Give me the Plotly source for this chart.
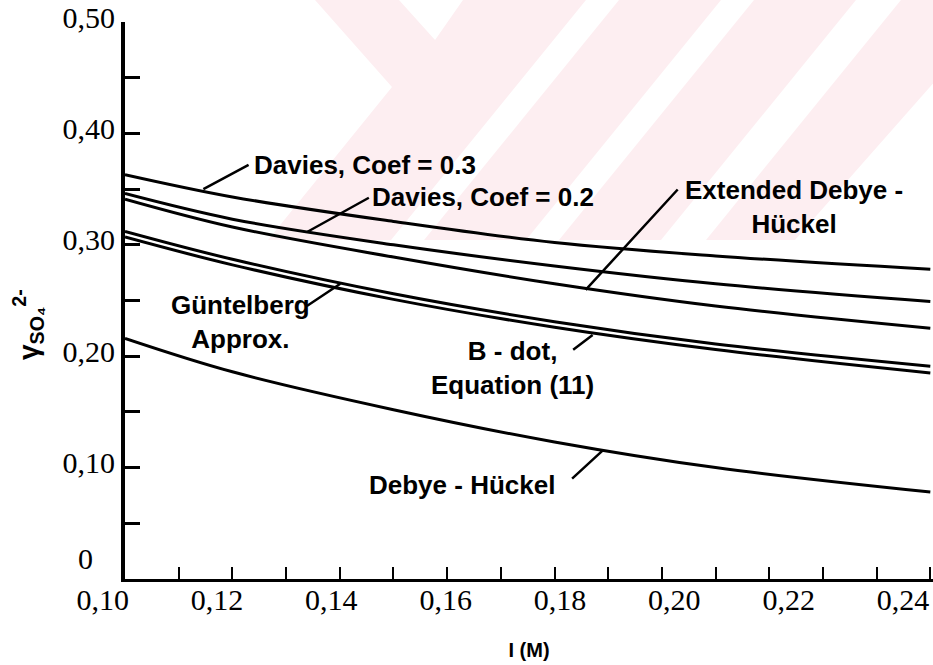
import plotly.graph_objects as go

# Ionic strength I (M)
ionic_strength = [0.10, 0.12, 0.15, 0.18, 0.21, 0.25]

# Activity coefficient of sulfate for each model
davies_03 = [0.363, 0.343, 0.321, 0.302, 0.290, 0.278]
davies_02 = [0.346, 0.323, 0.300, 0.281, 0.265, 0.249]
extended_dh = [0.341, 0.316, 0.289, 0.265, 0.245, 0.225]
guntelberg = [0.312, 0.287, 0.256, 0.231, 0.211, 0.191]
b_dot = [0.307, 0.282, 0.251, 0.226, 0.206, 0.185]
debye_huckel = [0.216, 0.186, 0.152, 0.123, 0.100, 0.078]

series = [
    ("Davies, Coef = 0.3", davies_03),
    ("Davies, Coef = 0.2", davies_02),
    ("Extended Debye-Hückel", extended_dh),
    ("Güntelberg Approx.", guntelberg),
    ("B-dot, Equation (11)", b_dot),
    ("Debye-Hückel", debye_huckel),
]

y_ticks = [0.05, 0.10, 0.15, 0.20, 0.25, 0.30, 0.35, 0.40, 0.45, 0.50]
y_ticktext = ["", "0,10", "", "0,20", "", "0,30", "", "0,40", "", "0,50"]
x_minor_ticks = [0.11, 0.12, 0.13, 0.14, 0.15, 0.16, 0.17, 0.18, 0.19,
                 0.20, 0.21, 0.22, 0.23, 0.24, 0.25]
x_label_vals = [0.10, 0.12, 0.14, 0.16, 0.18, 0.20, 0.22, 0.24]
x_label_text = ["0,10", "0,12", "0,14", "0,16", "0,18", "0,20", "0,22", "0,24"]

# curve labels: (text, I, gamma, xanchor)
curve_labels = [
    ("Davies, Coef = 0.3", 0.1237, 0.3716, "left"),
    ("Davies, Coef = 0.2", 0.1457, 0.3429, "left"),
    ("Extended Debye -<br>Hückel", 0.2246, 0.3339, "center"),
    ("Güntelberg<br>Approx.", 0.1215, 0.2307, "center"),
    ("B - dot,<br>Equation (11)", 0.1722, 0.1894, "center"),
    ("Debye\u00a0-\u00a0Hückel", 0.1627, 0.0844, "center"),
]

# leader lines: (tail I, tail gamma, head I, head gamma)
leaders = [
    (0.1233, 0.3725, 0.1146, 0.3500),
    (0.1457, 0.3430, 0.1340, 0.3117),
    (0.2032, 0.3510, 0.1858, 0.2595),
    (0.1336, 0.2442, 0.1401, 0.2650),
    (0.1832, 0.2047, 0.1871, 0.2190),
    (0.1830, 0.0889, 0.1890, 0.1155),
]

INK = "#000000"
SERIF = "Liberation Serif, Times New Roman, serif"
SANS = "Liberation Sans, Arial, sans-serif"

fig = go.Figure()

for name, vals in series:
    fig.add_trace(go.Scatter(
        x=ionic_strength, y=vals, mode="lines", name=name,
        line=dict(color=INK, width=3, shape="spline", smoothing=1.0),
        showlegend=False, hoverinfo="skip",
    ))

# empty trace so the printed-label axis (x2) is laid out
fig.add_trace(go.Scatter(x=[], y=[], xaxis="x2", yaxis="y", mode="lines",
                         showlegend=False, hoverinfo="skip"))

annotations = []
for text, xi, yi, anchor in curve_labels:
    annotations.append(dict(
        x=xi, y=yi, xref="x", yref="y", text=text, showarrow=False,
        xanchor=anchor, yanchor="middle", align="center",
        font=dict(family=SANS, size=26, color=INK, weight="bold"),
    ))
for tx, ty, hx, hy in leaders:
    annotations.append(dict(
        x=hx, y=hy, ax=tx, ay=ty, xref="x", yref="y", axref="x", ayref="y",
        text="", showarrow=True, arrowhead=0, arrowwidth=2.5, arrowcolor=INK,
    ))

# corner label and y-axis title
annotations.append(dict(x=(85 - 60) / 873, y=(579 - 558) / 557, xref="paper", yref="paper",
                        text="0", showarrow=False, xanchor="center", yanchor="middle",
                        font=dict(family=SERIF, size=30, color=INK)))
annotations.append(dict(x=(28 - 60) / 873, y=(579 - 325) / 557, xref="paper", yref="paper",
                        text="γ<sub>SO₄</sub><sup>2-</sup>", textangle=-90,
                        showarrow=False, xanchor="center", yanchor="middle",
                        font=dict(family=SANS, size=28, color=INK, weight="bold")))


def px_to_paper(px, py):
    return (px - 60) / 873, (579 - py) / 557


# faint watermark stripes in the background
stripes = [
    [(315, 0), (399, 0), (435, 40), (463, 0), (586, 0), (391, 240), (268, 240), (392, 87)],
    [(619, 0), (721, 0), (526, 240), (424, 240)],
    [(754, 0), (856, 0), (661, 240), (559, 240)],
    [(901, 0), (945, 0), (945, 70), (795, 240), (706, 240)],
]
shapes = []
for poly in stripes:
    pts = [px_to_paper(*p) for p in poly]
    path = "M " + " L ".join(f"{x:.4f},{y:.4f}" for x, y in pts) + " Z"
    shapes.append(dict(type="path", xref="paper", yref="paper", path=path,
                       fillcolor="#fdeef1", line=dict(width=0), layer="below"))

# printed tick labels run on their own, slightly wider spacing
k_lab = (903 - 217) / 0.12
v0 = 0.12 - (217 - 60) / k_lab
v1 = v0 + 873 / k_lab

fig.update_layout(
    width=933, height=665,
    margin=dict(l=60, r=0, t=22, b=86),
    paper_bgcolor="white", plot_bgcolor="rgba(0,0,0,0)",
    annotations=annotations, shapes=shapes,
    xaxis=dict(
        domain=[(125 - 60) / 873, 1], range=[0.10, 0.2505],
        showline=True, linewidth=3, linecolor=INK, mirror=False,
        ticks="inside", ticklen=12, tickwidth=2, tickcolor=INK,
        tickvals=x_minor_ticks, showticklabels=False,
        showgrid=False, zeroline=False,
        title=dict(text="<b>I (M)</b>", font=dict(family=SANS, size=20, color=INK), standoff=62),
    ),
    xaxis2=dict(
        anchor="y", side="bottom", domain=[0, 1], range=[v0, v1],
        showline=False, ticks="", showgrid=False, zeroline=False,
        tickvals=x_label_vals, ticktext=x_label_text,
        tickfont=dict(family=SERIF, size=30, color=INK),
    ),
    yaxis=dict(
        range=[0, 0.5], showline=True, linewidth=4, linecolor=INK,
        ticks="inside", ticklen=15, tickwidth=3, tickcolor=INK,
        tickvals=y_ticks, ticktext=y_ticktext,
        tickfont=dict(family=SERIF, size=30, color=INK),
        ticklabelshift=-5,
        showgrid=False, zeroline=False,
    ),
)

fig.write_html("out.html")
